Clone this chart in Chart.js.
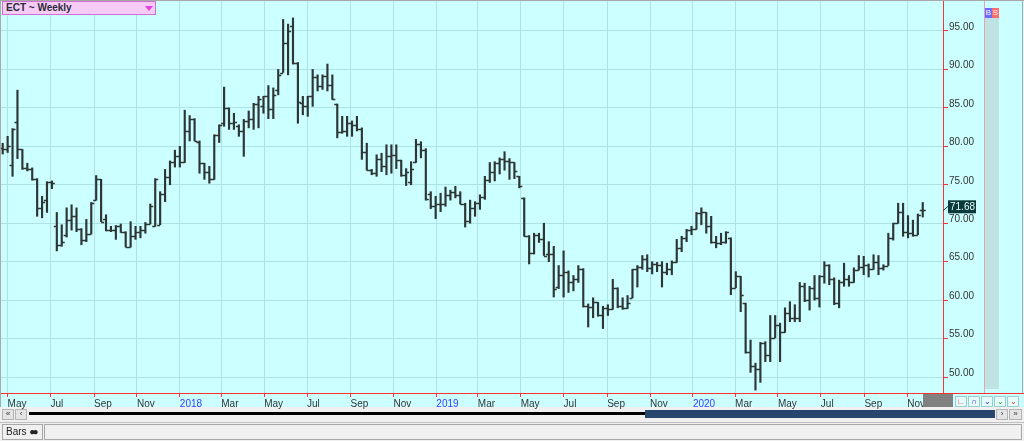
<!DOCTYPE html>
<html>
<head>
<meta charset="utf-8">
<script src="https://cdn.jsdelivr.net/npm/chart.js@4.4.1/dist/chart.umd.min.js"></script>
<style>
  body { margin: 0; background: #f0f0f0; font-family: 'Liberation Sans', Arial, sans-serif; }
  #wrap { position: relative; width: 1024px; height: 441px; overflow: hidden; background: #f0f0f0; }
  .abs { position: absolute; box-sizing: border-box; }
  .btn { position: absolute; box-sizing: border-box; background: #e4e4e4; border: 1px solid #b4b4b4; font-size: 8px; line-height: 8px; text-align: center; color: #333; }
  .mini { position: absolute; box-sizing: border-box; top: 396px; width: 12px; height: 11px; background: #e6fbfb; border: 1px solid #9ccccc; font-size: 8px; line-height: 9px; text-align: center; }
</style>
</head>
<body>
<div id="wrap">
  <div class="abs" style="left:0;top:0;width:1024px;height:407px;background:#ccffff;"></div>
  <canvas id="myChart" width="1024" height="441" style="position:absolute;left:0;top:0;"></canvas>

  <!-- frame lines -->
  <div class="abs" style="left:0;top:0;width:1024px;height:1px;background:#a8a8a8;"></div>
  <div class="abs" style="left:0;top:0;width:1px;height:407px;background:#a8a8a8;"></div>
  <div class="abs" style="left:943px;top:393px;width:81px;height:1px;background:#ff3030;"></div>
  <div class="abs" style="left:984px;top:1px;width:1px;height:392px;background:#e4a4ac;"></div>
  <div class="abs" style="left:985px;top:18px;width:14px;height:371px;background:#bfe3e3;"></div>
  <div class="abs" style="left:1022px;top:1px;width:1px;height:392px;background:#a8a8a8;"></div>
  <div class="abs" style="left:985px;top:8px;width:7px;height:10px;background:#6a6aff;color:#fff;font-size:8px;line-height:10px;text-align:center;">B</div>
  <div class="abs" style="left:992px;top:8px;width:7px;height:10px;background:#ff6a6a;color:#fff;font-size:8px;line-height:10px;text-align:center;">S</div>

  <!-- title box -->
  <div class="abs" style="left:2px;top:1px;width:154px;height:14px;background:#f6ccf6;border:1px solid #d070d0;font-size:10px;line-height:12px;padding-left:3px;color:#2a2a3a;font-weight:bold;">ECT ~ Weekly</div>
  <div class="abs" style="left:145px;top:6px;width:0;height:0;border-left:4px solid transparent;border-right:4px solid transparent;border-top:5px solid #e040e0;"></div>

  <!-- bottom right controls -->
  <div class="abs" style="left:923px;top:394px;width:30px;height:13px;background:#808080;"></div>
  <div class="mini" style="left:955px;color:#e03030;">&#8735;</div>
  <div class="mini" style="left:968px;color:#3030e0;">&#8745;</div>
  <div class="mini" style="left:981px;color:#3030e0;">&#8964;</div>
  <div class="mini" style="left:994px;color:#20b020;">&#8964;</div>
  <div class="mini" style="left:1007px;color:#e03030;">&#8964;</div>

  <!-- scroll bar -->
  <div class="btn" style="left:2px;top:409px;width:12px;height:11px;">&#171;</div>
  <div class="btn" style="left:15px;top:409px;width:12px;height:11px;">&#8249;</div>
  <div class="abs" style="left:29px;top:412px;width:617px;height:3px;background:#000;"></div>
  <div class="abs" style="left:645px;top:410px;width:350px;height:8px;background:#27466e;"></div>
  <div class="btn" style="left:996px;top:409px;width:12px;height:11px;">&#8250;</div>
  <div class="btn" style="left:1009px;top:409px;width:13px;height:11px;">&#187;</div>

  <!-- status bar -->
  <div class="abs" style="left:0;top:422px;width:1024px;height:1px;background:#c0c0c0;"></div>
  <div class="abs" style="left:2px;top:424px;width:41px;height:16px;border:1px solid #a8a8a8;font-size:10px;line-height:14px;padding-left:3px;color:#222;">Bars <span style="letter-spacing:-3px;">&#9679;&#9679;</span></div>
  <div class="abs" style="left:44px;top:424px;width:978px;height:16px;border:1px solid #a8a8a8;"></div>
</div>

<script>
// ECT weekly, one bar per week starting the week of 24 Apr 2017
const firstWeek = Date.UTC(2017, 3, 24);
const DAY = 86400000;

const opens = [
  79.8, 79.7, 77.6, 83.2, 79.6, 77.2, 77.0, 75.8, 72.0, 73.0,
  75.4, 69.6, 67.2, 68.5, 70.4, 71.0, 69.3, 67.8, 68.6, 73.0,
  75.7, 70.5, 69.1, 69.1, 69.6, 68.8, 66.9, 68.3, 68.9, 69.1,
  69.9, 69.6, 69.8, 73.8, 76.0, 78.0, 78.7, 78.0, 82.0, 83.6,
  80.6, 77.8, 76.7, 75.7, 81.5, 83.0, 85.0, 83.0, 82.6, 82.0,
  83.3, 83.5, 85.5, 85.2, 86.5, 84.9, 87.3, 89.6, 93.5, 95.6,
  90.9, 85.6, 85.3, 86.5, 89.0, 87.9, 89.1, 88.0, 85.5, 81.8,
  82.0, 83.0, 82.8, 82.2, 79.3, 76.9, 76.5, 78.3, 77.5, 78.7,
  78.9, 78.2, 76.3, 75.3, 78.0, 80.3, 79.5, 73.8, 72.2, 72.5,
  72.5, 73.7, 74.1, 73.7, 72.5, 70.3, 72.0, 72.6, 73.4, 75.6,
  76.7, 77.8, 78.3, 78.1, 77.9, 76.1, 73.3, 68.4, 66.1, 68.5,
  68.0, 66.0, 66.0, 61.7, 63.3, 63.6, 62.3, 62.7, 64.1, 59.2,
  59.1, 59.7, 58.1, 59.0, 58.8, 61.6, 59.2, 59.0, 60.3, 64.0,
  64.3, 65.3, 64.2, 64.7, 64.6, 63.6, 64.0, 64.9, 66.8, 68.1,
  69.1, 69.2, 71.3, 71.4, 69.6, 67.6, 67.4, 67.5, 68.1, 61.6,
  63.1, 59.6, 53.3, 51.4, 51.0, 54.4, 52.9, 55.1, 56.7, 55.8,
  58.3, 57.7, 57.7, 61.8, 60.0, 61.6, 60.3, 63.1, 64.6, 62.7,
  59.6, 62.4, 62.7, 62.4, 63.9, 64.3, 64.6, 64.0, 64.9, 64.2,
  64.5, 68.1, 70.0, 71.4, 68.9, 68.7, 68.5, 71.7
];
const highs = [
  80.4, 81.3, 82.3, 87.3, 79.6, 77.8, 77.2, 75.8, 73.5, 75.4,
  75.5, 71.4, 69.8, 72.0, 72.4, 72.0, 69.3, 70.5, 72.7, 76.2,
  75.7, 71.1, 69.6, 69.7, 69.9, 68.9, 70.2, 69.6, 69.6, 70.1,
  72.5, 75.8, 74.1, 77.0, 78.1, 79.5, 80.0, 84.7, 84.0, 83.6,
  80.7, 77.8, 77.4, 81.5, 82.8, 87.7, 85.0, 84.3, 82.8, 83.5,
  84.6, 85.6, 86.5, 86.5, 87.9, 87.6, 90.0, 96.5, 95.9, 96.7,
  90.9, 86.5, 86.5, 90.0, 89.3, 89.3, 90.7, 89.3, 85.5, 83.9,
  83.9, 83.3, 83.9, 82.4, 80.4, 77.0, 78.9, 79.1, 80.2, 80.2,
  80.2, 78.2, 77.1, 78.0, 80.9, 80.6, 79.7, 74.1, 73.5, 73.9,
  74.7, 74.3, 74.8, 74.1, 72.6, 73.0, 72.8, 73.7, 76.1, 77.9,
  78.0, 78.5, 79.3, 78.4, 77.9, 76.1, 73.3, 68.4, 68.7, 68.7,
  70.0, 67.6, 67.0, 64.5, 66.4, 63.8, 63.2, 64.5, 64.1, 59.5,
  60.3, 59.7, 59.2, 59.4, 62.7, 61.6, 60.3, 60.6, 64.0, 64.5,
  65.8, 65.9, 65.0, 64.9, 65.0, 64.8, 65.1, 67.9, 68.3, 69.2,
  69.6, 71.4, 72.0, 71.4, 70.9, 68.3, 68.7, 68.9, 68.1, 63.7,
  63.1, 59.6, 54.8, 51.8, 54.5, 54.6, 58.0, 58.0, 57.0, 59.0,
  59.8, 59.4, 62.3, 62.2, 61.8, 63.2, 63.2, 65.0, 64.6, 62.9,
  62.6, 64.8, 63.2, 64.2, 65.8, 65.7, 64.7, 65.9, 65.8, 64.6,
  68.7, 70.0, 72.6, 72.6, 71.0, 70.4, 71.2, 72.7
];
const lows = [
  79.0, 79.2, 76.1, 78.4, 77.0, 76.8, 75.6, 70.9, 70.7, 71.4,
  74.5, 66.4, 67.0, 68.2, 69.1, 68.9, 67.2, 67.6, 68.6, 73.0,
  70.2, 69.0, 68.9, 67.9, 68.8, 66.9, 66.9, 67.9, 68.1, 68.7,
  69.9, 69.6, 69.8, 72.8, 75.0, 77.3, 77.3, 77.9, 80.7, 80.7,
  76.5, 75.7, 75.2, 75.7, 80.5, 82.6, 82.2, 82.2, 81.3, 78.7,
  82.4, 82.2, 82.4, 84.3, 83.6, 83.6, 86.7, 89.6, 89.3, 90.7,
  83.0, 84.1, 83.9, 85.2, 87.2, 87.4, 87.2, 86.1, 81.1, 81.7,
  81.3, 81.3, 82.0, 78.3, 76.9, 76.3, 76.1, 76.7, 76.3, 76.5,
  77.1, 76.1, 74.9, 75.0, 77.9, 78.5, 73.0, 71.9, 70.6, 71.5,
  72.2, 73.0, 73.3, 72.5, 69.5, 70.0, 70.9, 71.8, 73.1, 75.3,
  75.5, 76.4, 76.9, 75.7, 75.8, 74.6, 68.3, 64.7, 66.0, 67.5,
  65.8, 65.0, 60.4, 61.5, 60.4, 61.0, 61.2, 62.3, 59.1, 56.5,
  57.7, 57.9, 56.3, 58.0, 58.8, 59.0, 58.8, 58.9, 60.3, 61.7,
  64.0, 63.7, 63.4, 63.7, 61.7, 63.3, 63.3, 64.9, 66.3, 67.6,
  68.5, 69.2, 69.8, 68.7, 67.4, 66.8, 67.2, 67.4, 60.7, 61.6,
  58.5, 53.1, 50.6, 48.3, 49.3, 52.0, 52.0, 55.1, 52.0, 55.8,
  57.2, 57.2, 57.2, 59.8, 58.7, 60.0, 59.1, 62.2, 62.0, 59.4,
  59.0, 61.8, 61.8, 62.3, 63.9, 63.3, 63.0, 64.0, 63.3, 63.9,
  64.5, 67.8, 70.0, 68.3, 68.1, 68.3, 68.5, 70.8
];
const closes = [
  79.7, 80.0, 82.3, 79.6, 77.2, 77.0, 75.7, 72.0, 72.8, 75.4,
  75.2, 67.2, 67.6, 70.4, 71.0, 69.3, 67.8, 68.6, 72.6, 75.7,
  70.2, 69.1, 69.1, 69.6, 68.8, 66.9, 68.3, 68.9, 69.1, 69.9,
  72.3, 75.7, 73.8, 76.0, 78.0, 78.7, 78.0, 82.0, 83.6, 80.7,
  77.8, 76.7, 75.7, 81.5, 82.8, 85.0, 83.0, 83.1, 82.0, 83.3,
  83.5, 85.5, 86.1, 86.5, 84.9, 86.7, 89.3, 93.5, 95.0, 90.9,
  85.7, 85.3, 86.5, 89.0, 87.9, 89.1, 88.0, 86.1, 81.8, 82.0,
  83.0, 82.8, 82.2, 79.3, 76.9, 76.5, 78.3, 77.5, 78.7, 78.9,
  78.2, 76.3, 76.6, 77.1, 80.3, 79.5, 73.1, 72.2, 72.5, 72.5,
  73.7, 74.1, 73.7, 72.5, 70.3, 72.0, 72.6, 73.4, 75.6, 76.7,
  77.8, 78.3, 78.1, 77.9, 76.8, 74.8, 68.4, 66.1, 68.5, 68.0,
  65.8, 66.0, 61.5, 63.3, 63.6, 62.3, 62.7, 64.1, 59.2, 59.1,
  59.7, 58.1, 59.0, 58.8, 61.6, 59.2, 59.0, 59.6, 64.0, 64.3,
  65.3, 64.2, 64.7, 64.6, 63.6, 64.0, 64.9, 66.8, 68.1, 69.1,
  69.2, 71.3, 71.4, 69.6, 67.6, 67.4, 67.5, 68.8, 61.6, 63.1,
  60.6, 53.3, 51.4, 51.0, 54.4, 52.9, 55.1, 56.7, 55.8, 58.3,
  57.7, 57.7, 61.8, 60.0, 61.6, 60.3, 63.1, 64.6, 62.7, 59.6,
  62.4, 62.7, 62.4, 63.9, 64.3, 64.6, 64.0, 64.9, 64.2, 64.5,
  68.1, 70.0, 71.4, 68.9, 68.7, 68.5, 71.1, 71.68
];

// x axis month ticks (every other month), year shown in January
const monthTickDates = [
  '2017-05-01', '2017-07-01', '2017-09-01', '2017-11-01',
  '2018-01-01', '2018-03-01', '2018-05-01', '2018-07-01', '2018-09-01', '2018-11-01',
  '2019-01-01', '2019-03-01', '2019-05-01', '2019-07-01', '2019-09-01', '2019-11-01',
  '2020-01-01', '2020-03-01', '2020-05-01', '2020-07-01', '2020-09-01', '2020-11-01'
];
const monthTickLabels = [
  'May', 'Jul', 'Sep', 'Nov',
  '2018', 'Mar', 'May', 'Jul', 'Sep', 'Nov',
  '2019', 'Mar', 'May', 'Jul', 'Sep', 'Nov',
  '2020', 'Mar', 'May', 'Jul', 'Sep', 'Nov'
];
const priceTicks = [50, 55, 60, 65, 70, 75, 80, 85, 90, 95];

const barColor = '#2e3535';
const gridColor = '#ade2e6';
const axisRed = '#ff3030';

// days since first week
const weekDays = closes.map((_, i) => i * 7);
const monthDays = monthTickDates.map(s => (Date.parse(s + 'T00:00:00Z') - firstWeek) / DAY);

Chart.defaults.font.family = "'Liberation Sans', Arial, sans-serif";
Chart.defaults.font.size = 10;

// open tick left, close tick right
const ohlcTicks = {
  id: 'ohlcTicks',
  afterDatasetsDraw(chart) {
    const { ctx, scales: { x, y }, chartArea } = chart;
    ctx.save();
    ctx.beginPath();
    ctx.rect(chartArea.left, chartArea.top, chartArea.right - chartArea.left, chartArea.bottom - chartArea.top);
    ctx.clip();
    ctx.strokeStyle = barColor;
    ctx.lineWidth = 1.4;
    ctx.beginPath();
    for (let i = 0; i < weekDays.length; i++) {
      const px = x.getPixelForValue(weekDays[i]);
      const po = Math.round(y.getPixelForValue(opens[i])) + 0.5;
      const pc = Math.round(y.getPixelForValue(closes[i])) + 0.5;
      ctx.moveTo(px - 3, po); ctx.lineTo(px, po);
      ctx.moveTo(px, pc); ctx.lineTo(px + 3, pc);
    }
    ctx.stroke();
    ctx.restore();
  },
  afterDraw(chart) {
    // last price marker on the right axis
    const { ctx, scales: { y }, chartArea } = chart;
    const last = closes[closes.length - 1];
    const py = y.getPixelForValue(last);
    ctx.save();
    ctx.strokeStyle = '#0b3a3a';
    ctx.lineWidth = 1;
    ctx.beginPath();
    ctx.moveTo(chartArea.right, py + 0.5);
    ctx.lineTo(chartArea.right + 5, py - 4);
    ctx.stroke();
    ctx.fillStyle = '#0b3a3a';
    ctx.fillRect(chartArea.right + 5, py - 10, 28, 13);
    ctx.fillStyle = '#e8ffff';
    ctx.textBaseline = 'middle';
    ctx.textAlign = 'left';
    ctx.font = "10px 'Liberation Sans', Arial, sans-serif";
    ctx.fillText(last.toFixed(2), chartArea.right + 7, py - 3);
    ctx.restore();
  }
};

const ctx = document.getElementById('myChart').getContext('2d');
const myChart = new Chart(ctx, {
  type: 'bar',
  data: {
    datasets: [{
      label: 'ECT',
      data: weekDays.map((d, i) => ({ x: d, y: [lows[i], highs[i]] })),
      backgroundColor: barColor,
      borderWidth: 0,
      barThickness: 1.5
    }]
  },
  options: {
    responsive: false,
    animation: false,
    layout: { padding: { left: 1, top: 1, right: 0, bottom: 0 } },
    plugins: { legend: { display: false }, tooltip: { enabled: false } },
    scales: {
      x: {
        type: 'linear',
        min: -2.42,
        max: 1337.8,
        offset: false,
        afterBuildTicks: s => { s.ticks = monthDays.map(v => ({ value: v })); },
        afterFit: s => { s.height = 48; s.paddingLeft = 0; s.paddingRight = 0; },
        grid: { color: gridColor, tickColor: axisRed, tickLength: 4, offset: false },
        border: { color: axisRed, width: 1 },
        ticks: {
          autoSkip: false,
          maxRotation: 0,
          align: 'start',
          padding: 1,
          color: c => (monthTickLabels[c.index] || '').length === 4 ? '#3a3aff' : '#333',
          callback: (v, i) => monthTickLabels[i]
        }
      },
      y: {
        position: 'right',
        min: 47.92,
        max: 98.9,
        afterBuildTicks: s => { s.ticks = priceTicks.map(v => ({ value: v })); },
        afterFit: s => { s.width = 81; s.paddingTop = 0; s.paddingBottom = 0; },
        grid: { color: gridColor, tickColor: axisRed, tickLength: 5 },
        border: { color: axisRed, width: 1 },
        ticks: {
          padding: 1,
          labelOffset: -4,
          color: '#333',
          callback: v => v.toFixed(2)
        }
      }
    }
  },
  plugins: [ohlcTicks]
});
</script>
</body>
</html>
